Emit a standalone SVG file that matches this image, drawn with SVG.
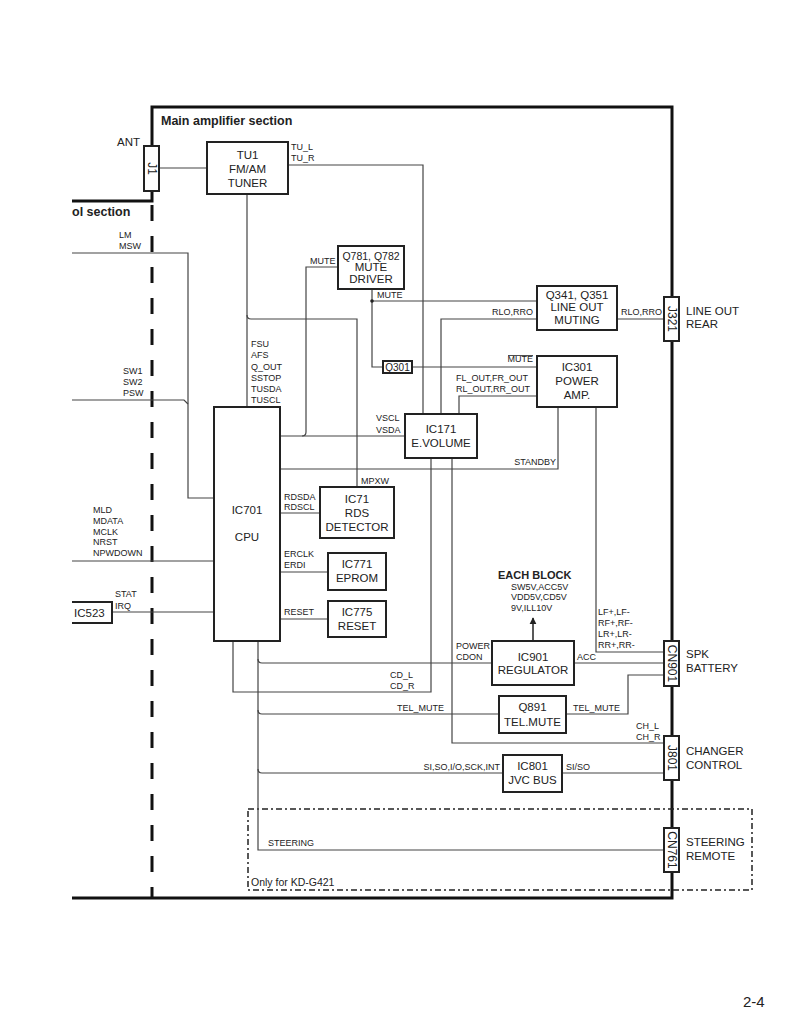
<svg xmlns="http://www.w3.org/2000/svg" width="791" height="1024" viewBox="0 0 791 1024">
<style>
text{font-family:"Liberation Sans",Arial,sans-serif;fill:#222}
.b{font-size:11.5px;text-anchor:middle}
.s{font-size:9px}
.r{text-anchor:end}
.h{font-size:12.5px;font-weight:bold}
.big{font-size:11.5px}
.rot{font-size:12px;text-anchor:middle;dominant-baseline:central}
.box{fill:#fff;stroke:#222;stroke-width:2}
.ln{fill:none;stroke:#444;stroke-width:1.2}
.thick{fill:none;stroke:#111;stroke-width:3}
</style>
<defs>
<marker id="ah" viewBox="0 0 10 10" refX="9" refY="5" markerWidth="7" markerHeight="8" orient="auto" markerUnits="userSpaceOnUse"><path d="M0 0L10 5L0 10z" fill="#222"/></marker>
</defs>
<rect width="791" height="1024" fill="#fff"/>

<g id="frame">
<path class="thick" d="M152 146V107H672V898H72"/>
<path class="thick" d="M152 191V201H72"/>
<path class="thick" d="M152 205V898" stroke-dasharray="16 15"/>
<rect x="248" y="809" width="504" height="81" fill="none" stroke="#222" stroke-width="1.5" stroke-dasharray="6 3 2 3"/>
<text class="h" x="161" y="125">Main amplifier section</text>
<text class="h" x="72" y="216">ol section</text>
<text class="big" x="117" y="146">ANT</text>
<text style="font-size:10.5px" x="251" y="886">Only for KD-G421</text>
<text style="font-size:15px" x="743" y="1007">2-4</text>
</g>

<g id="connectors">
<path class="ln" d="M159 168H207"/>
<path class="ln" d="M288 165H423V414"/>
<path class="ln" d="M247 194V407"/>
<path class="ln" d="M247 315Q247 319 251 319H357V487"/>
<path class="ln" d="M72 253H188V498H214"/>
<path class="ln" d="M72 400H184L188 404"/>
<path class="ln" d="M72 561H214"/>
<path class="ln" d="M112 612H214"/>
<path class="ln" d="M338 267H306V432Q306 436 302 436"/>
<path class="ln" d="M280 436H405"/>
<path class="ln" d="M372 289V367H383"/>
<path class="ln" d="M372 301H537"/>
<circle cx="372" cy="301" r="1.8" fill="#222"/>
<path class="ln" d="M412 367H537"/>
<path class="ln" d="M441 414V319H537"/>
<path class="ln" d="M617 319H664"/>
<path class="ln" d="M459 414V396H537"/>
<path class="ln" d="M558 407V469H280"/>
<path class="ln" d="M596 407V652H664"/>
<path class="ln" d="M280 513H320"/>
<path class="ln" d="M280 572H328"/>
<path class="ln" d="M280 619H328"/>
<path class="ln" d="M431 458V692H233V641"/>
<path class="ln" d="M452 458V743H664"/>
<path class="ln" d="M258 641V850H664"/>
<path class="ln" d="M258 659Q258 663 262 663H492"/>
<path class="ln" d="M574 663H664"/>
<path class="ln" d="M258 710Q258 714 262 714H499"/>
<path class="ln" d="M566 714H628V675H664"/>
<path class="ln" d="M258 769Q258 773 262 773H503"/>
<path class="ln" d="M562 773H664"/>
<path fill="none" stroke="#222" stroke-width="1.5" d="M533 641V618" marker-end="url(#ah)"/>
</g>

<g id="labels">
<text class="s" x="291" y="150">TU_L</text>
<text class="s" x="291" y="161">TU_R</text>
<text class="s" x="310" y="264">MUTE</text>
<text class="s" x="377" y="298">MUTE</text>
<text class="s r" x="533" y="315">RLO,RRO</text>
<text class="s" x="621" y="315">RLO,RRO</text>
<text class="s r" x="533" y="362">MUTE</text>
<path d="M508 355.5H533" stroke="#222" stroke-width="0.8"/>
<text class="s" x="456" y="381">FL_OUT,FR_OUT</text>
<text class="s" x="456" y="392">RL_OUT,RR_OUT</text>
<text class="s r" x="556" y="465">STANDBY</text>
<text class="s" x="376" y="421">VSCL</text>
<text class="s" x="376" y="433">VSDA</text>
<text class="s" x="251" y="347">FSU</text>
<text class="s" x="251" y="358">AFS</text>
<text class="s" x="251" y="370">Q_OUT</text>
<text class="s" x="251" y="381">SSTOP</text>
<text class="s" x="251" y="392">TUSDA</text>
<text class="s" x="251" y="403">TUSCL</text>
<text class="s" x="119" y="238">LM</text>
<text class="s" x="119" y="249">MSW</text>
<text class="s" x="123" y="374">SW1</text>
<text class="s" x="123" y="385">SW2</text>
<text class="s" x="123" y="396">PSW</text>
<text class="s" x="93" y="513">MLD</text>
<text class="s" x="93" y="524">MDATA</text>
<text class="s" x="93" y="535">MCLK</text>
<text class="s" x="93" y="545">NRST</text>
<text class="s" x="93" y="556">NPWDOWN</text>
<text class="s" x="115" y="597">STAT</text>
<text class="s" x="115" y="609">IRQ</text>
<text class="s" x="284" y="500">RDSDA</text>
<text class="s" x="284" y="510">RDSCL</text>
<text class="s" x="361" y="484">MPXW</text>
<text class="s" x="284" y="557">ERCLK</text>
<text class="s" x="284" y="568">ERDI</text>
<text class="s" x="284" y="615">RESET</text>
<text class="s" x="456" y="649">POWER</text>
<text class="s" x="456" y="660">CDON</text>
<text class="s" x="577" y="660">ACC</text>
<text class="s" x="598" y="615">LF+,LF-</text>
<text class="s" x="598" y="626">RF+,RF-</text>
<text class="s" x="598" y="637">LR+,LR-</text>
<text class="s" x="598" y="648">RR+,RR-</text>
<text style="font-size:11px;font-weight:bold" x="498" y="579">EACH BLOCK</text>
<text class="s" x="511" y="590">SW5V,ACC5V</text>
<text class="s" x="511" y="600">VDD5V,CD5V</text>
<text class="s" x="511" y="611">9V,ILL10V</text>
<text class="s" x="573" y="711">TEL_MUTE</text>
<text class="s" x="390" y="678">CD_L</text>
<text class="s" x="390" y="689">CD_R</text>
<text class="s" x="397" y="711">TEL_MUTE</text>
<text class="s r" x="500" y="770">SI,SO,I/O,SCK,INT</text>
<text class="s" x="566" y="770">SI/SO</text>
<text class="s" x="636" y="729">CH_L</text>
<text class="s" x="636" y="740">CH_R</text>
<text class="s" x="268" y="846">STEERING</text>
</g>

<g id="J1"><rect class="box" x="144" y="146" width="15" height="45" stroke-width="1.6"/><text class="rot" transform="translate(151.5 168.5) rotate(90)">J1</text></g>
<g id="TU1"><rect class="box" x="207" y="142" width="81" height="52"/><text class="b" x="247.5" y="159">TU1</text><text class="b" x="247.5" y="173">FM/AM</text><text class="b" x="247.5" y="187">TUNER</text></g>
<g id="Q781"><rect class="box" x="338" y="246" width="66" height="43"/><text class="b" style="font-size:10.5px" x="371" y="260">Q781, Q782</text><text class="b" x="371" y="271">MUTE</text><text class="b" x="371" y="283">DRIVER</text></g>
<g id="Q341"><rect class="box" x="537" y="286" width="80" height="44"/><text class="b" x="577" y="299">Q341, Q351</text><text class="b" x="577" y="311">LINE OUT</text><text class="b" x="577" y="324">MUTING</text></g>
<g id="J321"><rect class="box" x="664" y="297" width="15" height="44" stroke-width="1.6"/><text class="rot" transform="translate(671.5 319) rotate(90)">J321</text><text class="big" x="686" y="315">LINE OUT</text><text class="big" x="686" y="328">REAR</text></g>
<g id="Q301"><rect class="box" x="383" y="361" width="29" height="12" stroke-width="1.6"/><text class="b" style="font-size:10px" x="397.5" y="370.5">Q301</text></g>
<g id="IC301"><rect class="box" x="537" y="356" width="80" height="51"/><text class="b" x="577" y="371">IC301</text><text class="b" x="577" y="385">POWER</text><text class="b" x="577" y="399">AMP.</text></g>
<g id="IC171"><rect class="box" x="405" y="414" width="72" height="44"/><text class="b" x="441" y="433">IC171</text><text class="b" x="441" y="447">E.VOLUME</text></g>
<g id="IC701"><rect class="box" x="214" y="407" width="66" height="234"/><text class="b" x="247" y="514">IC701</text><text class="b" x="247" y="541">CPU</text></g>
<g id="IC71"><rect class="box" x="320" y="487" width="74" height="51"/><text class="b" x="357" y="503">IC71</text><text class="b" x="357" y="517">RDS</text><text class="b" x="357" y="531">DETECTOR</text></g>
<g id="IC771"><rect class="box" x="328" y="553" width="58" height="37"/><text class="b" x="357" y="568">IC771</text><text class="b" x="357" y="582">EPROM</text></g>
<g id="IC775"><rect class="box" x="328" y="601" width="58" height="36"/><text class="b" x="357" y="616">IC775</text><text class="b" x="357" y="630">RESET</text></g>
<g id="IC523"><path d="M72 602H112V623H72" fill="#fff" stroke="#222" stroke-width="2"/><text class="big" x="74" y="617">IC523</text></g>
<g id="IC901"><rect class="box" x="492" y="641" width="82" height="44"/><text class="b" x="533" y="661">IC901</text><text class="b" x="533" y="674">REGULATOR</text></g>
<g id="CN901"><rect class="box" x="664" y="641" width="15" height="45" stroke-width="1.6"/><text class="rot" transform="translate(671.5 663.5) rotate(90)">CN901</text><text class="big" x="686" y="658">SPK</text><text class="big" x="686" y="672">BATTERY</text></g>
<g id="Q891"><rect class="box" x="499" y="696" width="67" height="37"/><text class="b" x="532.5" y="711">Q891</text><text class="b" x="532.5" y="726">TEL.MUTE</text></g>
<g id="J801"><rect class="box" x="664" y="736" width="15" height="44" stroke-width="1.6"/><text class="rot" transform="translate(671.5 758) rotate(90)">J801</text><text class="big" x="686" y="755">CHANGER</text><text class="big" x="686" y="769">CONTROL</text></g>
<g id="IC801"><rect class="box" x="503" y="755" width="59" height="37"/><text class="b" x="532.5" y="770">IC801</text><text class="b" x="532.5" y="784">JVC BUS</text></g>
<g id="CN761"><rect class="box" x="664" y="828" width="15" height="44" stroke-width="1.6"/><text class="rot" transform="translate(671.5 850) rotate(90)">CN761</text><text class="big" x="686" y="846">STEERING</text><text class="big" x="686" y="860">REMOTE</text></g>
</svg>
